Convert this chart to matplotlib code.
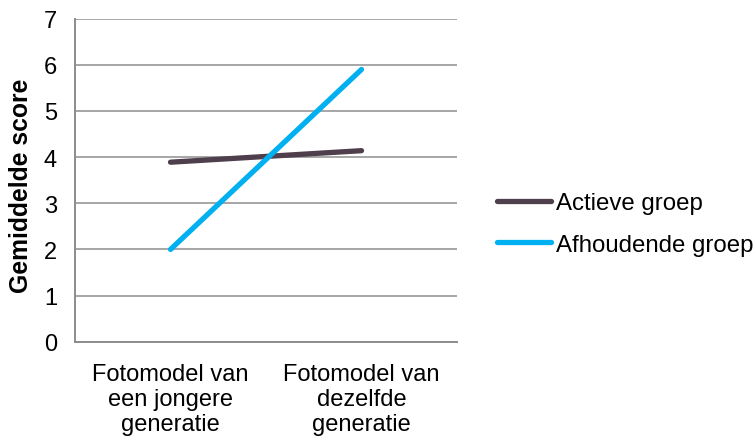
import matplotlib.pyplot as plt

plt.rcParams['font.family'] = ['Liberation Sans', 'DejaVu Sans']

categories = ['Fotomodel van\neen jongere\ngeneratie', 'Fotomodel van\ndezelfde\ngeneratie']
actieve = [3.89, 4.14]
afhoudende = [2.0, 5.9]
series_names = ['Actieve groep', 'Afhoudende groep']

fig = plt.figure(figsize=(7.56, 4.39), dpi=100)
ax = fig.add_axes([75 / 756, 1 - 342.7 / 439, 382 / 756, 323 / 439])

x = [0, 1]
l1, = ax.plot(x, actieve, color='#4F3E4B', lw=3.8, solid_capstyle='round')
l2, = ax.plot(x, afhoudende, color='#00B0F0', lw=3.8, solid_capstyle='round')

ax.set_xlim(-0.5, 1.5)
ax.set_ylim(0, 7)
ax.set_yticks(range(0, 8))
ax.set_xticks(x)
ax.set_xticklabels(categories, fontsize=17, linespacing=1.2)
ax.tick_params(axis='both', length=0, labelsize=17)
ax.tick_params(axis='y', pad=13)
ax.tick_params(axis='x', pad=15)
ax.yaxis.grid(True, color='#A6A6A6', lw=1.4)
ax.set_axisbelow(True)
for s in ['top', 'right']:
    ax.spines[s].set_visible(False)
for s in ['left', 'bottom']:
    ax.spines[s].set_color('#8C8C8C')
    ax.spines[s].set_linewidth(1.4)

ax.set_ylabel('Gemiddelde score', fontsize=17.8, fontweight='bold')
ax.yaxis.set_label_coords(-42 / 382, (342.7 - 185.5) / 323)

fig.legend([l1, l2], series_names, loc='center left',
           bbox_to_anchor=(487.5 / 756, 1 - 225 / 439), frameon=False,
           fontsize=17.3, handlelength=2.25, handletextpad=0.2,
           labelspacing=0.82, borderaxespad=0)

fig.savefig('out.png', dpi=100)
